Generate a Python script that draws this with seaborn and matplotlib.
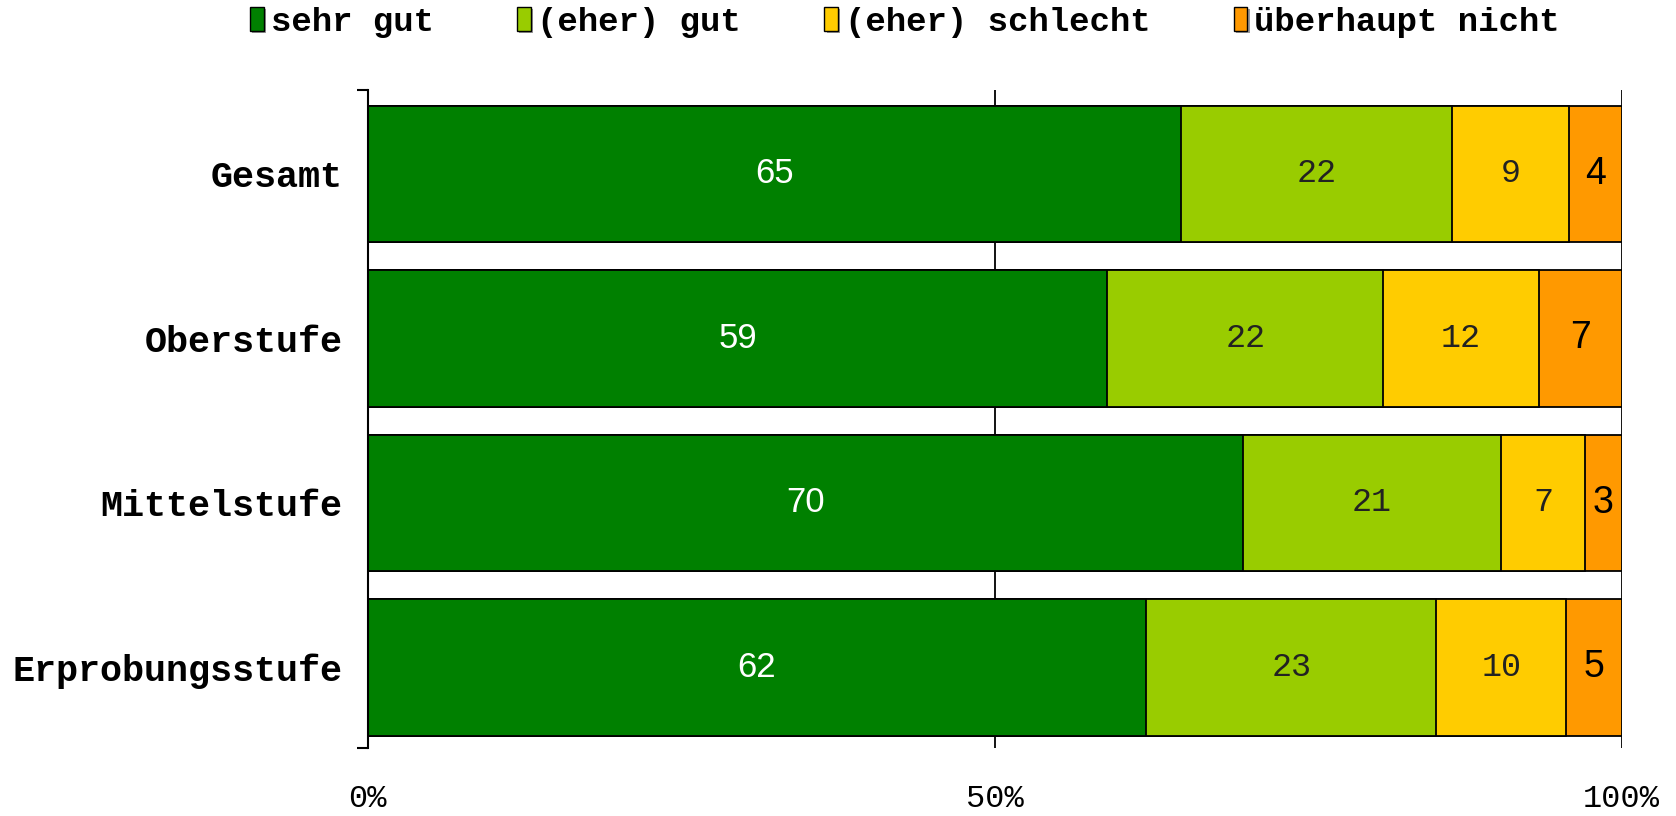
import numpy as np
import pandas as pd
import seaborn as sns
import matplotlib.pyplot as plt
import matplotlib.patheffects as pe
from matplotlib.patches import Patch

stufen = ['Gesamt', 'Oberstufe', 'Mittelstufe', 'Erprobungsstufe']
antworten = ['sehr gut', '(eher) gut', '(eher) schlecht', 'überhaupt nicht']
farben = ['#008000', '#99CC00', '#FFCC00', '#FF9900']

# Anteile in %
sehr_gut = [64.9, 59.0, 69.8, 62.1]
eher_gut = [21.6, 22.0, 20.6, 23.1]
eher_schlecht = [9.3, 12.4, 6.7, 10.4]
gar_nicht = [4.2, 6.6, 2.9, 4.4]

# Beschriftungen wie in der Vorlage (gerundet)
lab_sehr_gut = [65, 59, 70, 62]
lab_eher_gut = [22, 22, 21, 23]
lab_eher_schlecht = [9, 12, 7, 10]
lab_gar_nicht = [4, 7, 3, 5]

werte = [sehr_gut, eher_gut, eher_schlecht, gar_nicht]
labels = [lab_sehr_gut, lab_eher_gut, lab_eher_schlecht, lab_gar_nicht]

df = pd.DataFrame({'stufe': stufen})
cum = np.zeros(len(stufen))
for name, w in zip(antworten, werte):
    cum = cum + np.array(w)
    df[name] = cum

fig = plt.figure(figsize=(16.76, 8.16), dpi=100)
ax = fig.add_axes([0.2194, 0.0833, 0.7481, 0.8064])

# gestapelt: von hinten (kumuliert 100) nach vorne
for name, c in reversed(list(zip(antworten, farben))):
    sns.barplot(data=df, x=name, y='stufe', orient='h', color=c, saturation=1,
                width=0.83, edgecolor='black', linewidth=1.3, ax=ax)

# Werte in die Segmente schreiben
stile = [
    dict(color='white', family='Liberation Sans', fontsize=25),
    dict(color='#222222', family='Liberation Mono', fontsize=24),
    dict(color='#222222', family='Liberation Mono', fontsize=24),
    dict(color='black', family='Liberation Sans', fontsize=27),
]
for j, name in enumerate(antworten):
    for i in range(len(stufen)):
        mitte = df[name][i] - werte[j][i] / 2
        ax.text(mitte, i, str(labels[j][i]), ha='center', va='center', **stile[j])

ax.set_xlim(0, 100)
ax.set_ylim(3.49, -0.51)
ax.set_xlabel('')
ax.set_ylabel('')
ax.set_axisbelow(True)
ax.xaxis.grid(True, color='black', linewidth=1.3)
ax.set_xticks([0, 50, 100])
ax.set_xticklabels(['0%', '50%', '100%'], family='Liberation Mono', fontsize=23)
ax.set_yticks(range(len(stufen)))
ax.set_yticklabels(stufen, family='Liberation Mono', fontweight='bold', fontsize=26.5)
ax.set_yticks([-0.51, 3.49], minor=True)
ax.tick_params(axis='x', length=0, pad=26)
ax.tick_params(axis='y', which='major', length=0, pad=18)
ax.tick_params(axis='y', which='minor', length=8, width=1.5)
for s in ['top', 'right', 'bottom']:
    ax.spines[s].set_visible(False)
ax.spines['left'].set_linewidth(1.5)
ax.spines['left'].set_color('black')

handles = [Patch(facecolor=c, edgecolor='black', linewidth=1) for c in farben]
leg = fig.legend(handles, antworten, loc='center', bbox_to_anchor=(0.54, 0.973),
                 ncol=4, frameon=False, handlelength=0.4, handleheight=0.7,
                 handletextpad=0.2, columnspacing=2.45,
                 prop={'family': 'Liberation Mono', 'weight': 'bold', 'size': 24.5})
for h in leg.legend_handles:
    h.set_path_effects([pe.withSimplePatchShadow(offset=(1.5, -1.5), shadow_rgbFace='gray', alpha=0.8)])

fig.savefig('out.png', dpi=100)
